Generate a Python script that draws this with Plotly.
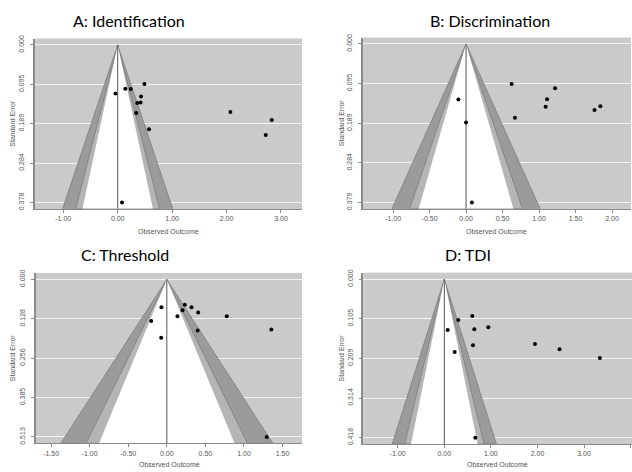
import plotly.graph_objects as go

# ---------------- data ----------------
titles = ["A: Identification", "B: Discrimination", "C: Threshold", "D: TDI"]

A_outcome = [0.49, 0.14, 0.24, -0.04, 0.43, 0.36, 0.42, 0.34, 0.575, 2.07, 2.83, 2.72, 0.08]
A_se = [0.094, 0.105, 0.1055, 0.1165, 0.124, 0.139, 0.138, 0.163, 0.202, 0.161, 0.180, 0.216, 0.378]
A_yticks = ["0.000", "0.095", "0.189", "0.284", "0.378"]
A_xticks = [-1.0, 0.0, 1.0, 2.0, 3.0]

B_outcome = [0.625, 1.22, -0.105, 1.11, 1.09, 1.76, 1.84, 0.67, 0.00, 0.08]
B_se = [0.096, 0.106, 0.133, 0.132, 0.150, 0.158, 0.149, 0.1765, 0.1875, 0.379]
B_yticks = ["0.000", "0.095", "0.189", "0.284", "0.379"]
B_xticks = [-1.0, -0.5, 0.0, 0.5, 1.0, 1.5, 2.0]

C_outcome = [-0.07, 0.233, 0.32, 0.203, 0.406, 0.138, 0.777, -0.203, 0.40, 1.355, -0.073, 1.295]
C_se = [0.091, 0.0825, 0.091, 0.1007, 0.108, 0.120, 0.120, 0.135, 0.166, 0.163, 0.1896, 0.513]
C_yticks = ["0.000", "0.128", "0.256", "0.385", "0.513"]
C_xticks = [-1.5, -1.0, -0.5, 0.0, 0.5, 1.0, 1.5]

D_outcome = [0.60, 0.30, 0.944, 0.644, 0.072, 0.615, 1.946, 0.222, 2.475, 3.34, 0.665]
D_se = [0.097, 0.1075, 0.127, 0.132, 0.134, 0.174, 0.171, 0.192, 0.185, 0.208, 0.418]
D_yticks = ["0.000", "0.105", "0.209", "0.314", "0.418"]
D_xticks = [-1.0, 0.0, 1.0, 2.0, 3.0, 4.0]

# contour levels (99%, 95%, 90%)
z_levels = [2.576, 1.960, 1.645]

# ---------------- layout / style ----------------
W, H = 632, 472
BG = "#cacaca"
SHADES = ["#9b9b9b", "#b5b5b5", "#ffffff"]
AXC = "#8a8a8a"
TXT = "#555555"

# plot boxes in pixels: (left, right, top, bottom) and x ranges
boxes = [(35, 302, 35, 207), (362.7, 631, 34, 207), (36, 302, 272, 444), (363.3, 632, 271.7, 444.7)]
xranges = [(-1.519, 3.386), (-1.416, 2.26), (-1.696, 1.752), (-1.74, 4.03)]
title_pos = [(129, 17), (490, 17), (125, 253), (468, 253)]
xlab_y = [230, 230, 465, 465]
ylab_x = [13, 341, 12, 341]

panels = [
    (A_outcome, A_se, A_yticks, A_xticks),
    (B_outcome, B_se, B_yticks, B_xticks),
    (C_outcome, C_se, C_yticks, C_xticks),
    (D_outcome, D_se, D_yticks, D_xticks),
]

fig = go.Figure()
annotations = []
shapes = []

for i, (xs, ses, ytl, xtv) in enumerate(panels):
    k = "" if i == 0 else str(i + 1)
    xa, ya = "x" + k, "y" + k
    l, r, t, b = boxes[i]
    semax = max(ses)
    ylo, yhi = -0.04 * semax, 1.04 * semax
    ytv = [semax * j / 4 for j in range(5)]

    # background rectangle
    shapes.append(dict(type="rect", xref=xa + " domain", yref=ya + " domain", x0=0, x1=1, y0=0, y1=1,
                       fillcolor=BG, line=dict(width=0), layer="below"))

    # funnel contours
    for z, col in zip(z_levels, SHADES):
        fig.add_trace(go.Scatter(
            x=[-z * yhi, 0, z * yhi, -z * yhi], y=[yhi, 0, yhi, yhi],
            mode="lines", fill="toself", fillcolor=col,
            line=dict(color="#6f6f6f" if col != "#ffffff" else "rgba(0,0,0,0)", width=0.6),
            xaxis=xa, yaxis=ya, hoverinfo="skip", showlegend=False))

    # vertical reference line at 0
    fig.add_trace(go.Scatter(x=[0, 0], y=[0, yhi], mode="lines", line=dict(color="#555555", width=1),
                             xaxis=xa, yaxis=ya, hoverinfo="skip", showlegend=False))

    # studies
    fig.add_trace(go.Scatter(x=xs, y=ses, mode="markers", marker=dict(color="black", size=4),
                             xaxis=xa, yaxis=ya, showlegend=False))

    xdom = [l / W, r / W]
    ydom = [1 - b / H, 1 - t / H]
    fig.update_layout(**{
        "xaxis" + k: dict(domain=xdom, range=list(xranges[i]), anchor=ya, showgrid=False, zeroline=False,
                          showline=True, linecolor=AXC, linewidth=1, ticks="outside", ticklen=3,
                          tickcolor=AXC, tickvals=xtv, ticktext=["%.2f" % v for v in xtv],
                          tickfont=dict(family="Liberation Sans", size=7, color=TXT), fixedrange=True),
        "yaxis" + k: dict(domain=ydom, range=[yhi, ylo], anchor=xa, showgrid=True, gridcolor="#f2f2f2",
                          gridwidth=1, zeroline=False, showline=True, linecolor=AXC, linewidth=1.5,
                          ticks="outside", ticklen=3, tickcolor=AXC, tickvals=ytv, ticktext=ytl,
                          tickangle=-90, tickfont=dict(family="Liberation Sans", size=7, color=TXT),
                          ticklabelstandoff=3, fixedrange=True),
    })

    annotations.append(dict(text=titles[i], x=title_pos[i][0] / W, y=1 - title_pos[i][1] / H,
                            xref="paper", yref="paper", showarrow=False, xanchor="center", yanchor="middle",
                            font=dict(family="Lato", size=16, color="black")))
    annotations.append(dict(text="Observed Outcome", x=(l + r) / 2 / W, y=1 - xlab_y[i] / H,
                            xref="paper", yref="paper", showarrow=False, xanchor="center", yanchor="middle",
                            font=dict(family="Liberation Sans", size=7, color=TXT)))
    annotations.append(dict(text="Standard Error", x=ylab_x[i] / W, y=1 - (t + b) / 2 / H,
                            xref="paper", yref="paper", showarrow=False, xanchor="center", yanchor="middle",
                            textangle=-90, font=dict(family="Liberation Sans", size=7, color=TXT)))

fig.update_layout(width=W, height=H, margin=dict(l=0, r=0, t=0, b=0),
                  paper_bgcolor="white", plot_bgcolor=BG,
                  annotations=annotations, shapes=shapes, showlegend=False)

fig.write_html("out.html", config={"displayModeBar": False},
               post_script="document.body.style.margin='0';document.body.style.padding='0';"
                           "document.body.style.overflow='hidden';")
